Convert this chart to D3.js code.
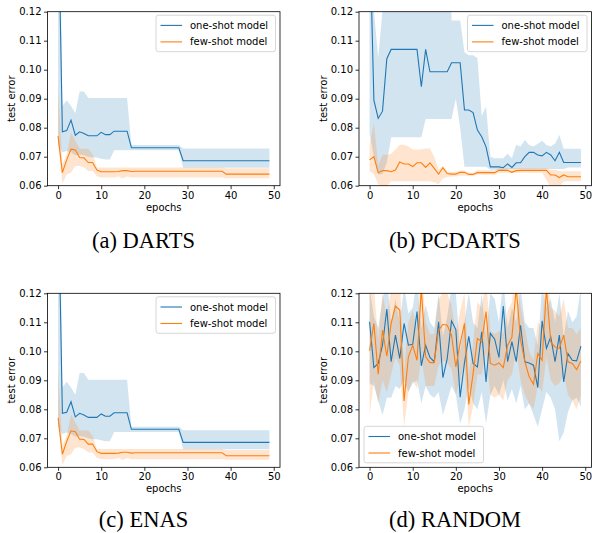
<!DOCTYPE html>
<html>
<head>
<meta charset="utf-8">
<script src="https://cdn.jsdelivr.net/npm/d3@7"></script>
<style>
  body { margin: 0; background: #fff; }
  svg text { font-family: "DejaVu Sans", sans-serif; }
</style>
</head>
<body>
<div id="canvas"></div>
<script>
// x values (epochs)
const epochs = d3.range(0, 50);
const yTicks = [0.06, 0.07, 0.08, 0.09, 0.10, 0.11, 0.12];
const xTicks = [0, 10, 20, 30, 40, 50];
const seriesNames = ["one-shot model", "few-shot model"];

// DARTS
const dartsOneMean = [0.16, 0.0786, 0.079, 0.0826, 0.0774, 0.0786, 0.078, 0.0772, 0.0772, 0.0772,
  0.0784, 0.0776, 0.0776, 0.0788, 0.0788, 0.0788, 0.0788, 0.0731, 0.0731, 0.0731,
  0.0731, 0.0731, 0.0731, 0.0731, 0.0731, 0.0731, 0.0731, 0.0731, 0.0731, 0.0686,
  0.0686, 0.0686, 0.0686, 0.0686, 0.0686, 0.0686, 0.0686, 0.0686, 0.0686, 0.0686,
  0.0686, 0.0686, 0.0686, 0.0686, 0.0686, 0.0686, 0.0686, 0.0686, 0.0686, 0.0686];
const dartsOneLow = [0.074, 0.0715, 0.072, 0.0715, 0.0705, 0.0708, 0.0705, 0.07, 0.0697, 0.0697,
  0.0693, 0.069, 0.069, 0.0722, 0.0722, 0.0722, 0.0722, 0.0722, 0.0722, 0.0722,
  0.0722, 0.0722, 0.0722, 0.0722, 0.0722, 0.0722, 0.0722, 0.0722, 0.0722, 0.0662,
  0.0662, 0.0662, 0.0662, 0.0662, 0.0662, 0.0662, 0.0662, 0.0662, 0.0662, 0.0662,
  0.0662, 0.0662, 0.0662, 0.0662, 0.0662, 0.0662, 0.0662, 0.0662, 0.0662, 0.0662];
const dartsOneHigh = [0.2, 0.0875, 0.0895, 0.0875, 0.085, 0.0925, 0.0925, 0.0902, 0.0902, 0.0902,
  0.0902, 0.0902, 0.0902, 0.0902, 0.0902, 0.0902, 0.0902, 0.074, 0.074, 0.074,
  0.074, 0.074, 0.074, 0.074, 0.074, 0.074, 0.074, 0.074, 0.074, 0.0728,
  0.0728, 0.0728, 0.0728, 0.0728, 0.0728, 0.0728, 0.0728, 0.0728, 0.0728, 0.0728,
  0.0728, 0.0728, 0.0728, 0.0728, 0.0728, 0.0728, 0.0728, 0.0728, 0.0728, 0.0728];
const dartsFewMean = [0.0771, 0.0645, 0.0689, 0.0726, 0.0723, 0.0697, 0.0696, 0.068, 0.068, 0.0654,
  0.0648, 0.0648, 0.0648, 0.0648, 0.0649, 0.0652, 0.0652, 0.0649, 0.065, 0.065,
  0.065, 0.065, 0.065, 0.065, 0.065, 0.065, 0.065, 0.065, 0.065, 0.065,
  0.065, 0.065, 0.065, 0.065, 0.065, 0.065, 0.065, 0.065, 0.065, 0.064,
  0.064, 0.064, 0.064, 0.064, 0.064, 0.064, 0.064, 0.064, 0.064, 0.064];
const dartsFewLow = [0.0754, 0.0608, 0.0639, 0.0645, 0.0668, 0.0668, 0.0663, 0.0651, 0.0651, 0.0633,
  0.0628, 0.0628, 0.0628, 0.0628, 0.0632, 0.0625, 0.0632, 0.0628, 0.0628, 0.0628,
  0.0628, 0.0628, 0.0628, 0.0628, 0.0628, 0.0628, 0.0628, 0.0628, 0.0628, 0.0628,
  0.0628, 0.0628, 0.0628, 0.0628, 0.0628, 0.0628, 0.0628, 0.0628, 0.0628, 0.0626,
  0.0626, 0.0626, 0.0626, 0.0626, 0.0626, 0.0626, 0.0626, 0.0626, 0.0626, 0.0626];
const dartsFewHigh = [0.0938, 0.0673, 0.0708, 0.0783, 0.0755, 0.0727, 0.0727, 0.0727, 0.0709, 0.0663,
  0.0663, 0.0663, 0.0663, 0.0663, 0.0663, 0.0663, 0.0663, 0.0663, 0.0663, 0.0663,
  0.0663, 0.0663, 0.0663, 0.0663, 0.0663, 0.0663, 0.0663, 0.0663, 0.0663, 0.0663,
  0.0663, 0.0663, 0.0663, 0.0663, 0.0663, 0.0663, 0.0663, 0.0663, 0.0663, 0.066,
  0.066, 0.066, 0.066, 0.066, 0.066, 0.066, 0.066, 0.066, 0.066, 0.066];

// PCDARTS
const pcOneMean = [0.15, 0.0895, 0.0832, 0.0857, 0.1038, 0.107, 0.107, 0.107, 0.107, 0.107,
  0.107, 0.107, 0.0941, 0.107, 0.0993, 0.0993, 0.0993, 0.0993, 0.0993, 0.1024,
  0.1024, 0.1024, 0.0861, 0.0861, 0.0852, 0.0792, 0.0769, 0.0734, 0.0665, 0.0665,
  0.0665, 0.0662, 0.0675, 0.0663, 0.0679, 0.0679, 0.07, 0.0715, 0.0715, 0.0706,
  0.0703, 0.0715, 0.0706, 0.0686, 0.0715, 0.068, 0.068, 0.068, 0.068, 0.068];
const pcOneLow = [0.078, 0.07, 0.0638, 0.064, 0.068, 0.0767, 0.0767, 0.0767, 0.0767, 0.0767,
  0.0767, 0.0767, 0.0767, 0.083, 0.083, 0.083, 0.083, 0.083, 0.083, 0.083,
  0.09, 0.08, 0.0665, 0.0665, 0.0665, 0.0665, 0.0665, 0.0665, 0.0655, 0.0655,
  0.0655, 0.0655, 0.0658, 0.0658, 0.0658, 0.0658, 0.0658, 0.0658, 0.0658, 0.0658,
  0.0658, 0.0658, 0.0658, 0.0658, 0.0658, 0.0658, 0.0663, 0.0663, 0.0663, 0.0663];
const pcOneHigh = [0.2, 0.1205, 0.104, 0.1205, 0.2, 0.2, 0.2, 0.2, 0.2, 0.2,
  0.2, 0.2, 0.2, 0.2, 0.2, 0.2, 0.2, 0.2, 0.2, 0.117,
  0.117, 0.117, 0.106, 0.105, 0.105, 0.104, 0.084, 0.0873, 0.07, 0.0695,
  0.0695, 0.0695, 0.071, 0.0695, 0.0741, 0.0735, 0.0758, 0.074, 0.0735, 0.0745,
  0.0755, 0.074, 0.0735, 0.0745, 0.0775, 0.0727, 0.0727, 0.0727, 0.0727, 0.0727];
const pcFewMean = [0.0689, 0.07, 0.0645, 0.0652, 0.0652, 0.0648, 0.0654, 0.0682, 0.0675, 0.0675,
  0.0666, 0.0679, 0.0679, 0.0663, 0.0679, 0.066, 0.064, 0.0662, 0.0642, 0.064,
  0.064, 0.0646, 0.0646, 0.0639, 0.0639, 0.0645, 0.0645, 0.0645, 0.0645, 0.0645,
  0.0653, 0.0653, 0.0653, 0.0646, 0.0652, 0.0653, 0.0653, 0.0653, 0.0653, 0.0653,
  0.0653, 0.0653, 0.0637, 0.0637, 0.0628, 0.0637, 0.0631, 0.0631, 0.0631, 0.0631];
const pcFewLow = [0.065, 0.064, 0.0605, 0.0598, 0.0598, 0.0615, 0.0615, 0.0615, 0.0615, 0.0615,
  0.0615, 0.0615, 0.0615, 0.0615, 0.0615, 0.0612, 0.0605, 0.0625, 0.063, 0.0632,
  0.0632, 0.0634, 0.0634, 0.0634, 0.0634, 0.0638, 0.0638, 0.0638, 0.0638, 0.0638,
  0.0645, 0.0645, 0.0645, 0.0645, 0.0645, 0.0645, 0.0645, 0.0645, 0.0645, 0.0645,
  0.0645, 0.062, 0.0595, 0.0595, 0.0595, 0.0615, 0.0615, 0.0615, 0.0615, 0.0615];
const pcFewHigh = [0.074, 0.0815, 0.067, 0.0707, 0.0707, 0.071, 0.0725, 0.0741, 0.0741, 0.0735,
  0.0725, 0.0725, 0.0725, 0.0728, 0.0728, 0.07, 0.0655, 0.0668, 0.065, 0.0647,
  0.0647, 0.0652, 0.0652, 0.0645, 0.0645, 0.0653, 0.0653, 0.0653, 0.0653, 0.0653,
  0.066, 0.066, 0.066, 0.066, 0.066, 0.066, 0.066, 0.066, 0.066, 0.066,
  0.066, 0.066, 0.0655, 0.0655, 0.065, 0.065, 0.065, 0.065, 0.065, 0.065];

// ENAS: the curves in the figure are the same as DARTS
const enasOneMean = dartsOneMean, enasOneLow = dartsOneLow, enasOneHigh = dartsOneHigh;
const enasFewMean = dartsFewMean, enasFewLow = dartsFewLow, enasFewHigh = dartsFewHigh;

// RANDOM
const rndOneMean = [0.1102, 0.0944, 0.0958, 0.1021, 0.1146, 0.0964, 0.1056, 0.0975, 0.1096, 0.1021,
  0.1024, 0.1137, 0.095, 0.1021, 0.0979, 0.0964, 0.1102, 0.0909, 0.0975, 0.1105,
  0.1075, 0.0842, 0.096, 0.1052, 0.0958, 0.0946, 0.1067, 0.0894, 0.1062, 0.1042,
  0.0979, 0.1156, 0.0964, 0.1033, 0.0964, 0.109, 0.0964, 0.096, 0.0952, 0.0875,
  0.1105, 0.101, 0.105, 0.0964, 0.1056, 0.0894, 0.0992, 0.0969, 0.0967, 0.1018];
const rndOneLow = [0.089, 0.088, 0.083, 0.078, 0.084, 0.084, 0.088, 0.087, 0.09, 0.086,
  0.089, 0.09, 0.082, 0.088, 0.085, 0.084, 0.086, 0.078, 0.083, 0.088,
  0.085, 0.075, 0.08, 0.088, 0.082, 0.08, 0.086, 0.075, 0.085, 0.088,
  0.085, 0.09, 0.083, 0.087, 0.082, 0.088, 0.08, 0.082, 0.078, 0.074,
  0.08, 0.086, 0.084, 0.08, 0.069, 0.072, 0.079, 0.083, 0.084, 0.081];
const rndOneHigh = [0.122, 0.112, 0.108, 0.118, 0.125, 0.11, 0.118, 0.11, 0.122, 0.113,
  0.115, 0.125, 0.108, 0.116, 0.11, 0.108, 0.12, 0.105, 0.112, 0.122,
  0.12, 0.1, 0.11, 0.12, 0.11, 0.108, 0.12, 0.105, 0.12, 0.118,
  0.11, 0.125, 0.108, 0.115, 0.11, 0.122, 0.11, 0.108, 0.108, 0.102,
  0.122, 0.115, 0.118, 0.11, 0.12, 0.105, 0.114, 0.11, 0.112, 0.122];
const rndFewMean = [0.1002, 0.1096, 0.0921, 0.1073, 0.0983, 0.1096, 0.1156, 0.1142, 0.0829, 0.0981,
  0.1021, 0.0969, 0.1215, 0.0981, 0.0961, 0.0961, 0.1073, 0.1093, 0.109, 0.1056,
  0.0946, 0.1027, 0.1096, 0.0817, 0.0923, 0.1044, 0.1033, 0.1137, 0.0958, 0.0952,
  0.096, 0.0944, 0.1021, 0.1048, 0.122, 0.1038, 0.0964, 0.0912, 0.0886, 0.0992,
  0.0969, 0.1215, 0.1033, 0.1015, 0.101, 0.1056, 0.0964, 0.0958, 0.0937, 0.0967];
const rndFewLow = [0.078, 0.09, 0.082, 0.09, 0.086, 0.092, 0.098, 0.095, 0.074, 0.086,
  0.09, 0.087, 0.098, 0.088, 0.088, 0.088, 0.095, 0.097, 0.096, 0.094,
  0.085, 0.09, 0.096, 0.074, 0.081, 0.092, 0.092, 0.1, 0.085, 0.084,
  0.085, 0.083, 0.09, 0.092, 0.1, 0.09, 0.085, 0.082, 0.08, 0.088,
  0.086, 0.098, 0.09, 0.088, 0.089, 0.092, 0.085, 0.083, 0.08, 0.085];
const rndFewHigh = [0.12, 0.122, 0.104, 0.12, 0.112, 0.122, 0.125, 0.125, 0.094, 0.11,
  0.114, 0.108, 0.13, 0.11, 0.106, 0.106, 0.118, 0.12, 0.12, 0.116,
  0.106, 0.114, 0.12, 0.092, 0.103, 0.117, 0.115, 0.125, 0.107, 0.106,
  0.107, 0.106, 0.114, 0.117, 0.132, 0.116, 0.108, 0.1, 0.097, 0.11,
  0.108, 0.13, 0.115, 0.114, 0.112, 0.118, 0.108, 0.108, 0.106, 0.108];

const colors = ["#1f77b4", "#ff7f0e"];

const width = 592, height = 533;
const pw = 232.5, ph = 174;

const panels = [
  { key: "a", left: 47.5, top: 11.7, caption: "(a) DARTS", capY: 247.5, legend: "ur",
    one: [dartsOneMean, dartsOneLow, dartsOneHigh], few: [dartsFewMean, dartsFewLow, dartsFewHigh] },
  { key: "b", left: 359, top: 11.7, caption: "(b) PCDARTS", capY: 247.5, legend: "ur",
    one: [pcOneMean, pcOneLow, pcOneHigh], few: [pcFewMean, pcFewLow, pcFewHigh] },
  { key: "c", left: 47.5, top: 293.3, caption: "(c) ENAS", capY: 527, legend: "ur",
    one: [enasOneMean, enasOneLow, enasOneHigh], few: [enasFewMean, enasFewLow, enasFewHigh] },
  { key: "d", left: 359, top: 293.3, caption: "(d) RANDOM", capY: 527, legend: "ll",
    one: [rndOneMean, rndOneLow, rndOneHigh], few: [rndFewMean, rndFewLow, rndFewHigh] }
];

const svg = d3.select("#canvas").append("svg")
  .attr("width", width).attr("height", height);
svg.append("rect").attr("width", width).attr("height", height).attr("fill", "#fff");

const x = d3.scaleLinear().domain([-2.45, 51.45]).range([0, pw]);
const y = d3.scaleLinear().domain([0.06, 0.12]).range([ph, 0]);

panels.forEach(p => {
  const g = svg.append("g").attr("transform", `translate(${p.left},${p.top})`);

  g.append("clipPath").attr("id", "clip-" + p.key)
    .append("rect").attr("width", pw).attr("height", ph);
  const plot = g.append("g").attr("clip-path", `url(#clip-${p.key})`);

  [p.one, p.few].forEach((s, k) => {
    const area = d3.area()
      .x((d, i) => x(epochs[i]))
      .y0((d, i) => y(s[1][i]))
      .y1((d, i) => y(s[2][i]));
    plot.append("path").datum(s[0])
      .attr("d", area)
      .attr("fill", colors[k]).attr("fill-opacity", 0.2);
  });
  [p.one, p.few].forEach((s, k) => {
    const line = d3.line().x((d, i) => x(epochs[i])).y(d => y(d));
    plot.append("path").datum(s[0])
      .attr("d", line)
      .attr("fill", "none").attr("stroke", colors[k]).attr("stroke-width", 1.1);
  });

  // axes
  const xa = g.append("g").attr("transform", `translate(0,${ph})`)
    .call(d3.axisBottom(x).tickValues(xTicks).tickSize(3.5).tickPadding(2.5).tickFormat(d3.format("d")));
  const ya = g.append("g")
    .call(d3.axisLeft(y).tickValues(yTicks).tickSize(3.5).tickPadding(2.5).tickFormat(d3.format(".2f")));
  [xa, ya].forEach(a => {
    a.select(".domain").remove();
    a.selectAll("line").attr("stroke", "#000").attr("stroke-width", 0.8);
    a.selectAll("text").attr("font-size", 10).attr("fill", "#000")
      .attr("font-family", "DejaVu Sans");
  });

  g.append("rect").attr("width", pw).attr("height", ph)
    .attr("fill", "none").attr("stroke", "#000").attr("stroke-width", 0.8);

  g.append("text").attr("x", pw / 2).attr("y", ph + 25)
    .attr("text-anchor", "middle").attr("font-size", 10).text("epochs");
  g.append("text")
    .attr("transform", `translate(-32.5,${ph / 2}) rotate(-90)`)
    .attr("text-anchor", "middle").attr("font-size", 10).text("test error");

  // legend
  const lw = 119.5, lh = 36.5;
  const lx = p.legend === "ur" ? pw - lw - 4.5 : 5;
  const ly = p.legend === "ur" ? 3.5 : ph - lh - 4.5;
  const lg = g.append("g").attr("transform", `translate(${lx},${ly})`);
  lg.append("rect").attr("width", lw).attr("height", lh).attr("rx", 2.5)
    .attr("fill", "#fff").attr("fill-opacity", 0.8)
    .attr("stroke", "#cccccc").attr("stroke-width", 0.8);
  seriesNames.forEach((name, k) => {
    const cy = 10.2 + k * 16.5;
    lg.append("line").attr("x1", 4.5).attr("x2", 26).attr("y1", cy).attr("y2", cy)
      .attr("stroke", colors[k]).attr("stroke-width", 1.1);
    lg.append("text").attr("x", 34).attr("y", cy + 3.6)
      .attr("font-size", 10).text(name);
  });

  // caption
  svg.append("text")
    .attr("x", p.left + 96).attr("y", p.capY)
    .attr("text-anchor", "middle")
    .style("font-family", "'Liberation Serif', 'Times New Roman', serif")
    .attr("font-size", 22.5).text(p.caption);
});
</script>
</body>
</html>
